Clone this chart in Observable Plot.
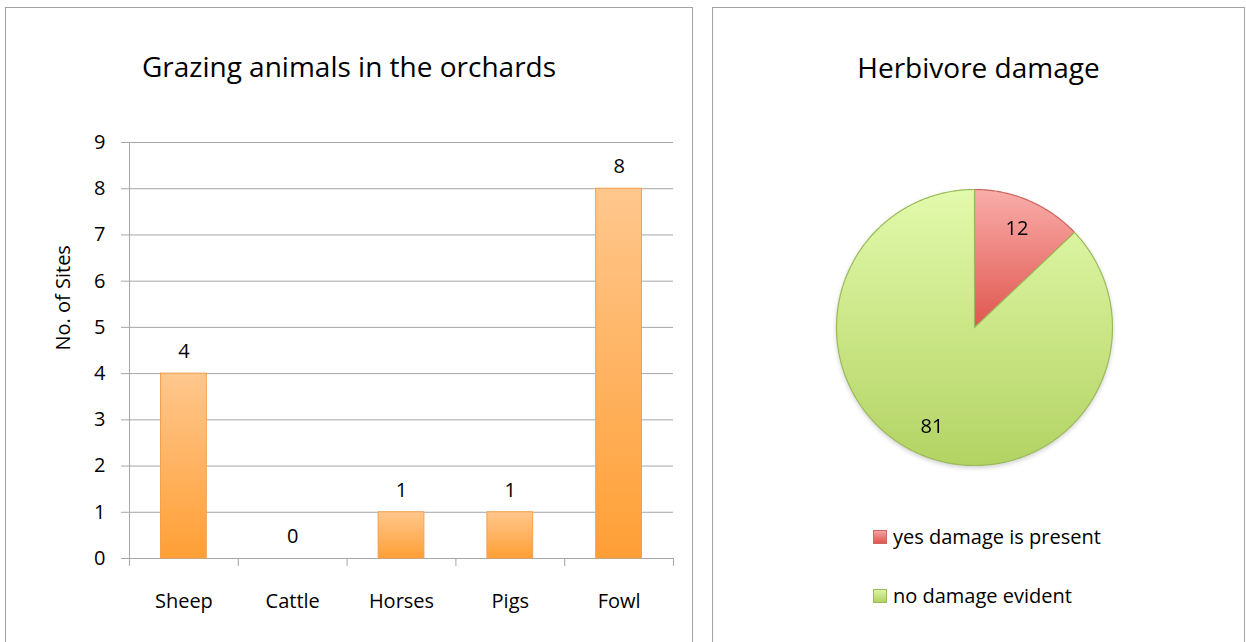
<!DOCTYPE html>
<html><head><meta charset="utf-8">
<script src="https://cdn.jsdelivr.net/npm/d3@7"></script>
<script src="https://cdn.jsdelivr.net/npm/@observablehq/plot@0.6"></script>
<style>
body{margin:0;width:1246px;height:642px;overflow:hidden;background:#fff;position:relative;font-family:"Open Sans",sans-serif;color:#000}
.panel{position:absolute;top:7px;height:700px;border:1px solid #a3a3a3;box-sizing:border-box}
.title{position:absolute;top:52px;font-size:28px;line-height:28px;text-align:center;white-space:nowrap}
.abs{position:absolute}
.legend{position:absolute;font-size:20px;line-height:20px;display:flex;align-items:center;white-space:nowrap}
.sw{width:14px;height:14px;box-sizing:border-box;margin-right:6px}
</style></head><body>
<svg width="0" height="0" style="position:absolute">
  <defs>
    <linearGradient id="barGrad" x1="0" y1="0" x2="0" y2="1">
      <stop offset="0" stop-color="#FFC78D"/><stop offset="1" stop-color="#FF9F35"/>
    </linearGradient>
    <linearGradient id="redGrad" x1="0" y1="0" x2="0" y2="1">
      <stop offset="0" stop-color="#F9ADA9"/><stop offset="1" stop-color="#E0564F"/>
    </linearGradient>
    <linearGradient id="greenGrad" x1="0" y1="0" x2="0" y2="1">
      <stop offset="0" stop-color="#E2FAAC"/><stop offset="1" stop-color="#B3D363"/>
    </linearGradient>
  </defs>
</svg>
<div class="panel" style="left:5px;width:688px"></div>
<div class="panel" style="left:712px;width:533px"></div>
<div class="title" style="left:5px;width:688px">Grazing animals in the orchards</div>
<div class="title" style="left:712px;width:533px;top:53px">Herbivore damage</div>
<div id="bar" class="abs" style="left:0;top:0"></div>
<div id="pie" class="abs" style="left:834px;top:187px"></div>
<div id="legend"></div>
<script>
const categories = ["Sheep", "Cattle", "Horses", "Pigs", "Fowl"];
const sites = [4, 0, 1, 1, 8];
const yTicks = [0, 1, 2, 3, 4, 5, 6, 7, 8, 9];
const yLabel = "No. of Sites";

const pieNames = ["yes damage is present", "no damage evident"];
const pieValues = [12, 81];

const font = '"Open Sans", sans-serif';
const grid = "#a6a6a6";

const barData = categories.map((c, i) => ({i, name: c, value: sites[i]}));

const bar = Plot.plot({
  width: 700, height: 642,
  marginLeft: 129, marginRight: 27, marginTop: 142, marginBottom: 84,
  style: {fontFamily: font, fontSize: "20px", color: "#000", background: "transparent", overflow: "visible"},
  x: {type: "linear", domain: [0, categories.length], axis: null},
  y: {domain: [0, 9], axis: null},
  marks: [
    Plot.gridY(yTicks, {stroke: grid, strokeOpacity: 1}),
    Plot.axisY(yTicks, {tickSize: 8, tickPadding: 16, stroke: grid, strokeOpacity: 1, label: null, fontSize: 20}),
    Plot.axisX(d3.range(categories.length + 1), {tickSize: 8, tickFormat: () => "", stroke: grid, strokeOpacity: 1, label: null}),
    Plot.axisX(categories.map((c, i) => i + 0.5), {tickSize: 0, tickPadding: 35, tickFormat: v => categories[Math.floor(v)], label: null, fontSize: 20}),
    Plot.ruleX([0], {stroke: grid, strokeOpacity: 1}),
    Plot.rectY(barData, {x1: "i", x2: d => d.i + 1, y: "value", insetLeft: 31.5, insetRight: 31.5,
      fill: "url(#barGrad)", stroke: "#F6A04C", strokeWidth: 1,
      style: {filter: "drop-shadow(1px 1px 1.5px rgba(0,0,0,0.22))"}}),
    Plot.text(barData, {x: d => d.i + 0.5, y: "value", text: d => String(d.value), dy: -22, fontSize: 20}),
    Plot.text([yLabel], {frameAnchor: "left", rotate: -90, dx: -66, fontSize: 20, text: d => d})
  ]
});
document.getElementById("bar").append(bar);

const arcs = d3.pie().sort(null)(pieValues);
const sliceFill = ["url(#redGrad)", "url(#greenGrad)"];
const sliceStroke = ["#CD6661", "#9BBB59"];
function outline(a) {
  const pts = [{x: 0, y: 0}];
  const n = Math.max(4, Math.ceil((a.endAngle - a.startAngle) / 0.01));
  for (let k = 0; k <= n; k++) {
    const ang = a.startAngle + (a.endAngle - a.startAngle) * k / n;
    pts.push({x: Math.sin(ang), y: Math.cos(ang)});
  }
  pts.push({x: 0, y: 0});
  return pts;
}
const labelData = arcs.map(a => {
  const m = (a.startAngle + a.endAngle) / 2;
  return {x: 0.78 * Math.sin(m), y: 0.78 * Math.cos(m), t: String(a.value)};
});
const pie = Plot.plot({
  width: 280, height: 280, margin: 2,
  style: {fontFamily: font, fontSize: "20px", color: "#000", background: "transparent", overflow: "visible",
    filter: "drop-shadow(0px 2px 2px rgba(0,0,0,0.18))"},
  x: {domain: [-1, 1], axis: null},
  y: {domain: [-1, 1], axis: null},
  marks: [
    ...arcs.map((a, i) => Plot.line(outline(a), {x: "x", y: "y", fill: sliceFill[i], stroke: sliceStroke[i], strokeWidth: 1.2, strokeLinejoin: "round"})),
    Plot.text(labelData, {x: "x", y: "y", text: "t", fontSize: 20})
  ]
});
document.getElementById("pie").append(pie);

const swatchBg = ["linear-gradient(#F4A19D,#E0564F)", "linear-gradient(#DDF2A4,#B3D363)"];
const swatchBorder = ["#CD6661", "#9BBB59"];
const legendTop = [527, 586];
const lg = document.getElementById("legend");
pieNames.forEach((n, i) => {
  const row = document.createElement("div");
  row.className = "legend";
  row.style.left = "873px";
  row.style.top = legendTop[i] + "px";
  const sw = document.createElement("div");
  sw.className = "sw";
  sw.style.background = swatchBg[i];
  sw.style.border = "1px solid " + swatchBorder[i];
  const t = document.createElement("span");
  t.textContent = n;
  row.append(sw, t);
  lg.append(row);
});
</script>
</body></html>
